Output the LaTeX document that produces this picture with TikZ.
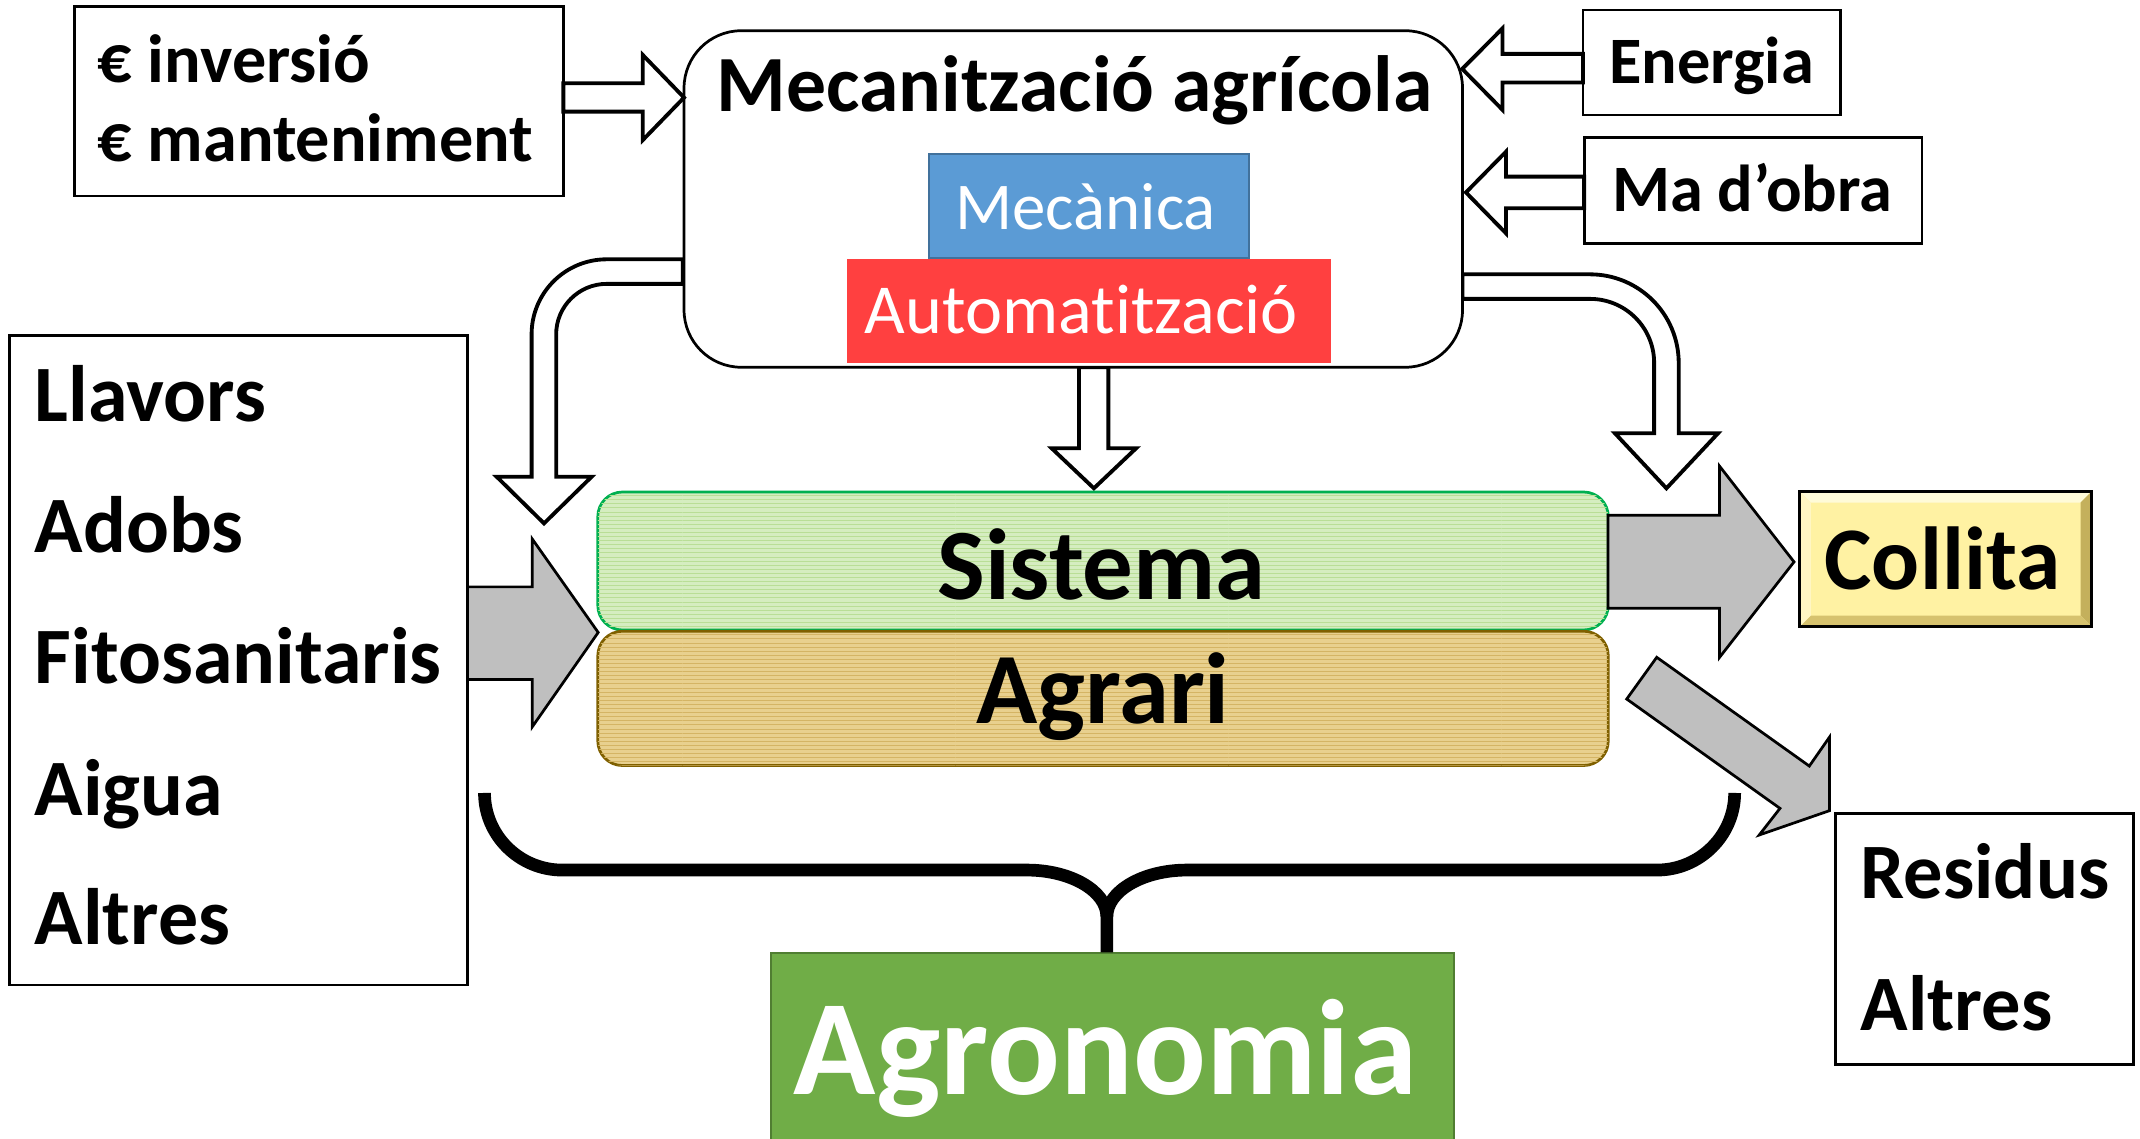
\documentclass[tikz,border=0pt]{standalone}
\usepackage{fontspec}
\setmainfont{Carlito}[Ligatures=NoCommon]
\usetikzlibrary{patterns}
\definecolor{grayA}{HTML}{BFBFBF}
\definecolor{sisfill}{RGB}{213,237,192}
\definecolor{sispat}{RGB}{185,222,150}
\definecolor{sisline}{HTML}{00B050}
\definecolor{agrfill}{RGB}{232,208,142}
\definecolor{agrpat}{RGB}{212,180,100}
\definecolor{agrline}{HTML}{7F6000}
\definecolor{mecfill}{HTML}{5B9BD5}
\definecolor{mecline}{HTML}{41719C}
\definecolor{autfill}{RGB}{255,64,64}
\definecolor{agrofill}{HTML}{70AD47}
\definecolor{agroline}{HTML}{507E32}
\definecolor{colfill}{RGB}{255,242,163}
\definecolor{colhi}{RGB}{255,251,216}
\definecolor{colhl}{RGB}{255,246,196}
\definecolor{colsh}{RGB}{196,176,92}
\definecolor{colsb}{RGB}{214,194,110}
\begin{document}
\begin{tikzpicture}[x=1pt,y=-1pt,
  plainbox/.style={draw=black, line width=2pt, fill=white, inner sep=0pt, outer sep=0pt},
  hollow/.style={draw=black, line width=2.8pt, fill=white, line join=miter},
  grayarrow/.style={draw=black, line width=2pt, fill=grayA, line join=miter},
  lbl/.style={inner sep=0pt, outer sep=0pt},
  fb/.style={font=\fontsize{#1}{#1}\selectfont\bfseries},
  fr/.style={font=\fontsize{#1}{#1}\selectfont},
  bracestyle/.style={draw=black, line width=9.3pt}
]
\useasboundingbox (0,0) rectangle (1568,834.5);

% ---------- hollow arrows (drawn before the mechanisation box) ----------
\draw[hollow] (500.2,190) -- (444.5,190) .. controls (414.1,190) and (389.5,214.6) .. (389.5,245)
  -- (389.5,349.3) -- (363.9,349.3) -- (398.6,383.5) -- (433.5,349.3) -- (407.5,349.3)
  -- (407.5,245) .. controls (407.5,224.6) and (424.1,208) .. (444.5,208) -- (500.2,208) -- cycle;
\draw[hollow] (1071.6,201) -- (1165,201) .. controls (1200.9,201) and (1230,230.1) .. (1230,266)
  -- (1230,317.5) -- (1258.8,317.5) -- (1221,357.8) -- (1183.3,317.5) -- (1212,317.5)
  -- (1212,266) .. controls (1212,240) and (1191,219) .. (1165,219) -- (1071.6,219) -- cycle;
\draw[hollow] (790.6,269.1) -- (790.6,328.5) -- (770.6,328.5) -- (801.5,357.8) -- (832.4,328.5)
  -- (812.1,328.5) -- (812.1,269.1) -- cycle;

% ---------- mechanisation box ----------
\node[plainbox, rounded corners=42pt, minimum width=570.4pt, minimum height=246.6pt] (mecbox) at (786.4,145.8) {};
\node[lbl, anchor=base, fb=58.4] (title) at (787.3,81.8) {Mecanització agrícola};
\node[draw=mecline, line width=1.5pt, fill=mecfill, inner sep=0pt, minimum width=234.8pt, minimum height=76.5pt] (mecanica) at (798,151.05) {};
\node[lbl, anchor=base, fr=49, text=white] (mecanicat) at (795.4,168) {Mecànica};
\node[fill=autfill, inner sep=0pt, minimum width=354.5pt, minimum height=76.2pt] (autom) at (798.05,228.1) {};
\node[lbl, anchor=base, fr=51.5, text=white] (automt) at (792.4,244.7) {Automatització};

% ---------- input boxes top ----------
\node[plainbox, minimum width=358pt, minimum height=138.7pt] (inv) at (233.8,74.25) {};
\node[lbl, anchor=base west, fb=50] (inv1) at (71.7,60.6) {€ inversió};
\node[lbl, anchor=base west, fb=50] (inv2) at (71.7,118.5) {€ manteniment};
\draw[hollow] (412.8,61) -- (471,61) -- (471,40.3) -- (501.2,71.5) -- (471,102.6) -- (471,81.8) -- (412.8,81.8) -- cycle;

\node[plainbox, minimum width=188.7pt, minimum height=77pt] (energia) at (1254.15,45.8) {};
\node[lbl, anchor=base, fb=48.6] (energiat) at (1254,61.3) {Energia};
\draw[hollow] (1159.8,39.5) -- (1100.9,39.5) -- (1100.9,20.8) -- (1071.4,50.5) -- (1100.9,80.5) -- (1100.9,60.5) -- (1159.8,60.5) -- cycle;

\node[plainbox, minimum width=247.6pt, minimum height=77.7pt] (obra) at (1284.5,139.45) {};
\node[lbl, anchor=base, fb=48.6] (obrat) at (1283.8,155.1) {Ma d’obra};
\draw[hollow] (1160.7,129.4) -- (1103.5,129.4) -- (1103.5,111.1) -- (1074.1,141) -- (1103.5,171) -- (1103.5,152.6) -- (1160.7,152.6) -- cycle;

% ---------- left inputs ----------
\node[plainbox, minimum width=335.3pt, minimum height=475.8pt] (inputs) at (174.85,483.8) {};
\node[lbl, anchor=base west, fb=58.6] (llavors) at (25.5,309) {Llavors};
\node[lbl, anchor=base west, fb=58.6] (adobs) at (25.5,405) {Adobs};
\node[lbl, anchor=base west, fb=58.6] (fito) at (25.5,501) {Fitosanitaris};
\node[lbl, anchor=base west, fb=58.6] (aigua) at (25.5,597.5) {Aigua};
\node[lbl, anchor=base west, fb=58.6] (altres1) at (25.5,692.4) {Altres};
\draw[grayarrow] (342.5,430) -- (389.9,430) -- (389.9,394.8) -- (438.3,463.4) -- (389.9,532.7) -- (389.9,497.8) -- (342.5,497.8) -- cycle;

% ---------- system ----------
\node[draw=sisline, line width=2pt, fill=sisfill, rounded corners=18pt, inner sep=0pt,
  minimum width=740.4pt, minimum height=101.1pt,
  postaction={pattern=horizontal lines, pattern color=sispat}] (sistema) at (808.2,411.05) {};
\node[draw=agrline, line width=2pt, fill=agrfill, rounded corners=18pt, inner sep=0pt,
  minimum width=740.4pt, minimum height=98.4pt,
  postaction={pattern=horizontal lines, pattern color=agrpat}] (agrari) at (808.2,511.7) {};
\node[lbl, anchor=base, fb=74] (sistemat) at (807,439.1) {Sistema};
\node[lbl, anchor=base, fb=74] (agrarit) at (808.2,530) {Agrari};

% ---------- outputs ----------
\draw[grayarrow] (1178.2,377.6) -- (1259.8,377.6) -- (1259.8,341.4) -- (1314.5,411.7) -- (1259.8,481.8) -- (1259.8,445.6) -- (1178.2,445.6) -- cycle;
\node[fill=colfill, inner sep=0pt, minimum width=213.6pt, minimum height=98.8pt] (collita) at (1425.7,409.6) {};
\fill[colhi] (1318.9,360.2) -- (1532.5,360.2) -- (1524.5,368.2) -- (1326.9,368.2) -- cycle;
\fill[colhl] (1318.9,360.2) -- (1326.9,368.2) -- (1326.9,451) -- (1318.9,459) -- cycle;
\fill[colsh] (1532.5,360.2) -- (1532.5,459) -- (1524.5,451) -- (1524.5,368.2) -- cycle;
\fill[colsb] (1318.9,459) -- (1532.5,459) -- (1524.5,451) -- (1326.9,451) -- cycle;
\draw[black, line width=2.2pt] (collita.north west) rectangle (collita.south east);
\node[lbl, anchor=base, fb=65.5] (collitat) at (1423.2,432) {Collita};

\draw[grayarrow] (1213.9,481.6) -- (1325.7,561.3) -- (1340.4,540.2) -- (1340.4,594) -- (1289,611.8) -- (1304.2,592.3) -- (1191.9,512.2) -- cycle;
\node[plainbox, minimum width=218.2pt, minimum height=184.1pt] (residus) at (1453.9,687.95) {};
\node[lbl, anchor=base west, fb=57.5] (residust) at (1363.4,658) {Residus};
\node[lbl, anchor=base west, fb=57.5] (altres2) at (1363.4,755) {Altres};

% ---------- brace and agronomy ----------
\node[draw=agroline, line width=1.5pt, fill=agrofill, inner sep=0pt, minimum width=500.4pt, minimum height=160pt] (agro) at (814.8,778.5) {};
\node[lbl, anchor=base, fb=99.5, text=white] (agrot) at (810,801.6) {Agronomia};
\draw[bracestyle] (355,581) .. controls (355,612) and (380.5,637.5) .. (412,637.5) -- (752.5,637.5)
  .. controls (784.5,637.5) and (811,652.9) .. (811,671.6) -- (agro.north -| 811,0);
\draw[bracestyle] (1271,581) .. controls (1271,612) and (1245.5,637.5) .. (1214,637.5) -- (869.5,637.5)
  .. controls (837.5,637.5) and (811,652.9) .. (811,671.6);
\end{tikzpicture}
\end{document}
